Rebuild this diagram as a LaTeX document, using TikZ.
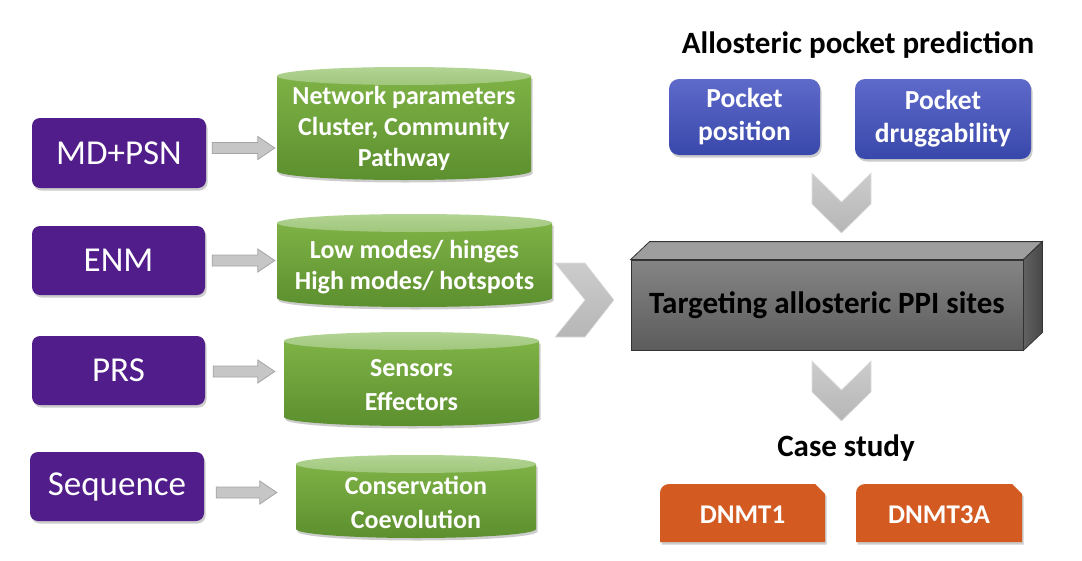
\documentclass[tikz,border=0pt]{standalone}
\usepackage{fontspec}
\setmainfont{Carlito}
\usetikzlibrary{calc,shadows}
\definecolor{cpurple}{RGB}{80,29,138}
\definecolor{cgreenT}{RGB}{126,178,70}
\definecolor{cgreenB}{RGB}{92,143,46}
\definecolor{cgreenTopA}{RGB}{178,212,148}
\definecolor{cgreenTopB}{RGB}{160,199,124}
\definecolor{cblueT}{RGB}{94,106,202}
\definecolor{cblueB}{RGB}{56,72,170}
\definecolor{corange}{RGB}{211,90,33}
\definecolor{carrowfill}{RGB}{198,198,198}
\definecolor{carrowline}{RGB}{165,165,165}
\definecolor{cchevA}{RGB}{204,204,204}
\definecolor{cchevB}{RGB}{182,182,182}
\newcommand\cylshape[7]{%
  \pgfmathsetmacro\cxa{#2}\pgfmathsetmacro\cxb{#3}%
  \pgfmathsetmacro\cxc{(#2+#3)/2}\pgfmathsetmacro\crx{(#3-#2)/2}%
  \pgfmathsetmacro\cyt{#4+9}\pgfmathsetmacro\cyb{#5-9}\pgfmathsetmacro\cwd{#3-#2}%
  \path[cylbody] (\cxa,\cyt) -- (\cxa,\cyb)
     .. controls (\cxa,\cyb+5) and (\cxc-0.552*\crx,\cyb+9) .. (\cxc,\cyb+9)
     .. controls (\cxc+0.552*\crx,\cyb+9) and (\cxb,\cyb+5) .. (\cxb,\cyb)
     -- (\cxb,\cyt) -- cycle;
  \path[cyltop] (\cxc,\cyt) ellipse [x radius=\crx pt, y radius=9pt];
  \node[cyltext, minimum width=\cwd pt] (#1) at (\cxc,#6) {#7};}
\newcommand\blockarr[5]{%
  \coordinate (ba-s) at ($(#1.east)+(#4,#3)$);
  \coordinate (ba-e) at ($(#1.east -| #2.west)+(-#5,#3)$);
  \draw[blockarrow] ($(ba-s)+(0,-5.5)$) -- ($(ba-e)+(-17,-5.5)$) -- ($(ba-e)+(-17,-11.5)$)
     -- (ba-e) -- ($(ba-e)+(-17,11.5)$) -- ($(ba-e)+(-17,5.5)$) -- ($(ba-s)+(0,5.5)$) -- cycle;}
\begin{document}
\begin{tikzpicture}[x=1pt,y=-1pt,
  shad/.style={drop shadow={shadow xshift=1.5pt, shadow yshift=-2.5pt, opacity=0.4}},
  purplebox/.style={rectangle, rounded corners=8pt, fill=cpurple, text=white,
     font=\fontsize{35}{40}\selectfont, inner sep=0pt, shad},
  bluebox/.style={rectangle, rounded corners=10pt, top color=cblueT, bottom color=cblueB,
     text=white, font=\fontsize{27.5}{33}\selectfont\bfseries, align=center, inner sep=0pt, shad},
  cylbody/.style={top color=cgreenT, bottom color=cgreenB, shad},
  cyltop/.style={top color=cgreenTopA, bottom color=cgreenTopB},
  cyltext/.style={text=white, font=\fontsize{26}{31}\selectfont\bfseries, align=center, inner sep=0pt},
  blockarrow/.style={fill=carrowfill, draw=carrowline, line width=0.8pt},
  chevron/.style={top color=cchevA, bottom color=cchevB, draw=white!75!gray, line width=0.6pt},
  titletext/.style={font=\fontsize{31}{36}\selectfont\bfseries, text=black, inner sep=0pt},
  frontbox/.style={rectangle, top color=black!48, bottom color=black!64, draw=black!80,
     line width=0.8pt, font=\fontsize{31}{36}\selectfont\bfseries, text=black, inner sep=0pt},
  orangetab/.style={fill=corange, shad},
  orangetext/.style={text=white, font=\fontsize{27}{32}\selectfont\bfseries, inner sep=0pt}]
\useasboundingbox[fill=white] (0,0) rectangle (1082,560);

% left column
\node[purplebox, minimum width=174pt, minimum height=70pt] (mdpsn) at (119,153) {MD+PSN};
\node[purplebox, minimum width=173pt, minimum height=69pt] (enm) at (118.5,260.5) {ENM};
\node[purplebox, minimum width=173pt, minimum height=69pt] (prs) at (118.5,370.5) {PRS};
\node[purplebox, minimum width=174pt, minimum height=69pt] (seq) at (117,486.5) {Sequence};

\cylshape{cyla}{277}{531}{67}{180}{128}{Network parameters\\Cluster, Community\\Pathway}
\cylshape{cylb}{277}{552}{214}{307}{267.5}{Low modes/ hinges\\High modes/ hotspots}
\cylshape{cylc}{284}{539}{332}{426}{385}{Sensors\\[3pt]Effectors}
\cylshape{cyld}{296}{536}{455}{538}{502.5}{Conservation\\[3pt]Coevolution}

\blockarr{mdpsn}{cyla}{-5}{6}{2}
\blockarr{enm}{cylb}{0}{7}{2}
\blockarr{prs}{cylc}{1}{8}{9}
\blockarr{seq}{cyld}{6}{12}{19}

% right chevron
\path[chevron] (555,263) -- (585,263) -- (614,300) -- (585,337) -- (555,337) -- (585,300) -- cycle;

% central 3D box
\node[frontbox, minimum width=392pt, minimum height=90pt] (ppi) at (827,305) {Targeting allosteric PPI sites};
\path[fill=black!38, draw=black!80, line width=0.8pt] (ppi.north west) -- ++(19,-18) -- ($(ppi.north east)+(19,-18)$) -- (ppi.north east) -- cycle;
\path[left color=black!62, right color=black!72, draw=black!80, line width=0.8pt] (ppi.north east) -- ++(19,-18) -- ($(ppi.south east)+(19,-18)$) -- (ppi.south east) -- cycle;

% top part
\node[titletext] (aptitle) at (858,45) {Allosteric pocket prediction};
\node[bluebox, minimum width=151pt, minimum height=76pt] (ppos) at (744.5,117) {Pocket\\position};
\node[bluebox, minimum width=176pt, minimum height=80pt] (pdrug) at (943,119) {Pocket\\druggability};
\path[chevron] (812,173) -- (841.5,202) -- (871,173) -- (871,204) -- (841.5,233) -- (812,204) -- cycle;

% bottom part
\path[chevron] (812,361) -- (841.5,390) -- (871,361) -- (871,392) -- (841.5,421) -- (812,392) -- cycle;
\node[titletext] (cstitle) at (846,448) {Case study};
\path[orangetab] (660,542) -- (660,493) .. controls (660,488) and (664,484) .. (669,484) -- (815,484) -- (825,494) -- (825,542) -- cycle;
\node[orangetext] (dnmta) at (742.5,515) {DNMT1};
\path[orangetab] (856,542) -- (856,493) .. controls (856,488) and (860,484) .. (865,484) -- (1012,484) -- (1022,494) -- (1022,542) -- cycle;
\node[orangetext] (dnmtb) at (939,515) {DNMT3A};
\end{tikzpicture}
\end{document}
